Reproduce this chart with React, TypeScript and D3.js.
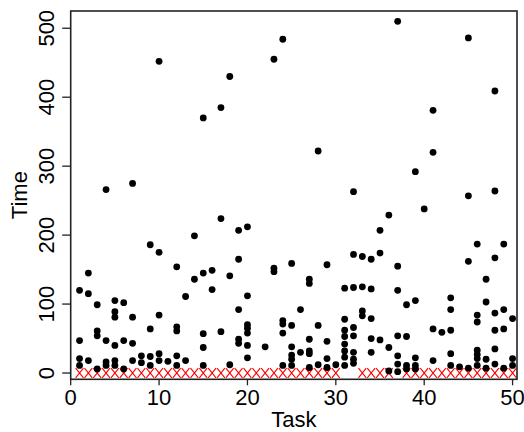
import React from "react";
import * as d3 from "d3";

const W = 524;
const H = 432;

// Time values per task (task 1..50)
const taskTimes: number[][] = [
  [120, 47, 21, 11],
  [145, 115, 18],
  [99, 61, 54, 6],
  [266, 47, 16, 11],
  [105, 89, 81, 40, 18, 11],
  [102, 47, 6],
  [275, 81, 43, 18],
  [25, 15],
  [186, 64, 24, 11],
  [452, 175, 84, 28, 18],
  [17],
  [154, 67, 61, 25, 11],
  [111, 18],
  [199, 136],
  [370, 145, 57, 37, 11],
  [149, 121],
  [385, 224, 60],
  [430, 141, 12],
  [207, 165, 92, 49, 43],
  [212, 112, 70, 65, 58, 40, 22],
  [],
  [38],
  [455, 152, 147],
  [484, 76, 71, 58, 11],
  [159, 69, 38, 26, 20, 11],
  [92, 30],
  [136, 130, 49, 32, 28, 8],
  [322, 69, 12],
  [157, 46, 21, 8],
  [12],
  [123, 78, 62, 53, 42, 32, 23, 11],
  [263, 172, 124, 66, 54, 30, 20, 14],
  [169, 125, 90, 83],
  [165, 122, 79, 50, 30],
  [207, 174, 48],
  [229, 37, 3],
  [510, 155, 120, 54, 25, 13, 2],
  [99, 53, 11, 6],
  [292, 105, 22, 11, 6],
  [238],
  [381, 320, 64, 18],
  [59],
  [109, 92, 62, 28, 11],
  [9],
  [486, 257, 162, 7],
  [187, 84, 74, 33, 27, 21, 11],
  [136, 103, 20, 7],
  [409, 264, 167, 87, 62, 35, 13],
  [187, 92, 64, 7],
  [79, 21, 11],
];

// Tasks marked with a red cross at time 0
const failedTasks: number[] = [
  ...d3.range(1, 31),
  33, 34, 35, 36,
  ...d3.range(38, 51),
];

const xTicks: number[] = [0, 10, 20, 30, 40, 50];
const yTicks: number[] = [0, 100, 200, 300, 400, 500];

const FONT = "'Liberation Sans', Arial, Helvetica, sans-serif";

export default function App() {
  const left = 70.7;
  const right = 517;
  const top = 11;
  const bottom = 379.3;

  const x = d3.scaleLinear().domain([0, 50.5]).range([left, right]);
  const y = d3.scaleLinear().domain([-9.1, 525]).range([bottom, top]);

  const points = taskTimes.flatMap((arr, i) =>
    arr.map((v) => ({ task: i + 1, time: v }))
  );

  const cw = 3.9;
  const ch = 4.9;

  return (
    <svg
      width={W}
      height={H}
      style={{ position: "absolute", left: 0, top: 0, background: "#fff" }}
      fontFamily={FONT}
    >
      <rect x={0} y={0} width={W} height={H} fill="#fff" />
      {/* red crosses */}
      <g stroke="#ff0000" strokeWidth={1.1} fill="none">
        {failedTasks.map((t) => (
          <path
            key={"c" + t}
            d={`M${x(t) - cw},${y(0) - ch}L${x(t) + cw},${y(0) + ch}M${x(t) - cw},${y(0) + ch}L${x(t) + cw},${y(0) - ch}`}
          />
        ))}
      </g>
      {/* points */}
      <g fill="#000">
        {points.map((p, i) => (
          <circle key={i} cx={x(p.task)} cy={y(p.time)} r={3.4} />
        ))}
      </g>
      {/* box */}
      <rect
        x={left}
        y={top}
        width={right - left}
        height={bottom - top}
        fill="none"
        stroke="#222"
        strokeWidth={1.6}
      />
      {/* ticks */}
      <g stroke="#222" strokeWidth={1.3}>
        {xTicks.map((t) => (
          <line key={"xt" + t} x1={x(t)} x2={x(t)} y1={bottom} y2={bottom + 6} />
        ))}
        {yTicks.map((t) => (
          <line key={"yt" + t} x1={left - 8.5} x2={left} y1={y(t)} y2={y(t)} />
        ))}
      </g>
      <g fontSize={22} fill="#000" textAnchor="middle">
        {xTicks.map((t) => (
          <text key={"xl" + t} x={x(t)} y={405}>
            {t}
          </text>
        ))}
        {yTicks.map((t) => (
          <text
            key={"yl" + t}
            transform={`translate(53.5,${y(t)}) rotate(-90)`}
          >
            {t}
          </text>
        ))}
        <text x={(left + right) / 2} y={427}>
          Task
        </text>
        <text transform={`translate(26.5,${(top + bottom) / 2}) rotate(-90)`}>
          Time
        </text>
      </g>
    </svg>
  );
}
